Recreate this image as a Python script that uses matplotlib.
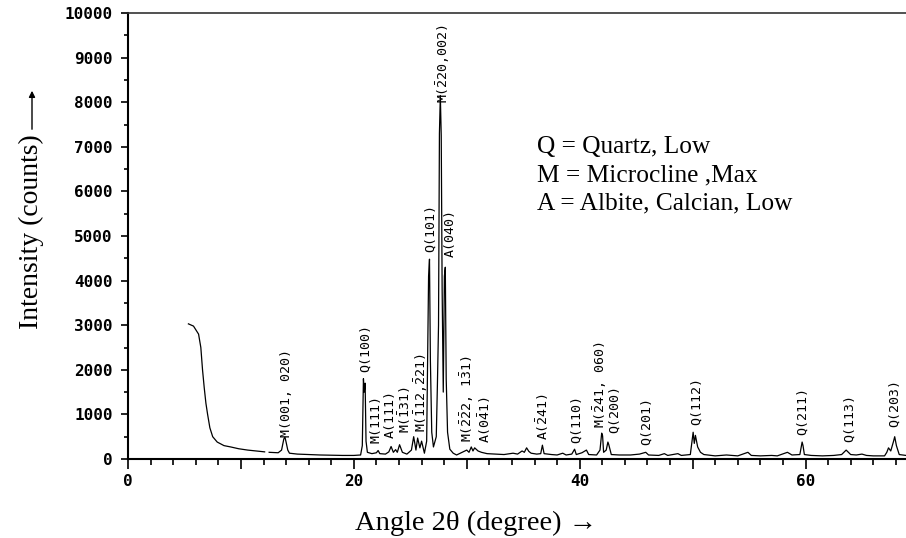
import numpy as np
import matplotlib
matplotlib.use("Agg")
import matplotlib.pyplot as plt
from matplotlib.ticker import MultipleLocator, FuncFormatter

plt.rcParams["mathtext.fontset"] = "custom"
plt.rcParams["mathtext.rm"] = "DejaVu Sans Mono"
plt.rcParams["mathtext.it"] = "DejaVu Sans Mono"
plt.rcParams["mathtext.bf"] = "DejaVu Sans Mono:bold"

# ---- data ----
angle_deg = [5.35, 5.8, 6.25, 6.45, 6.6, 6.75, 6.9, 7.05, 7.25, 7.5, 7.9, 8.5, 9.1, 9.8, 10.6, 11.4, 12.1,
             12.3, 12.5, 13.3, 13.6, 13.8, 13.9, 14.0, 14.15, 14.3, 15.0, 16.0, 17.0, 18.0, 19.0, 20.0,
             20.6, 20.75, 20.85, 20.92, 21.0, 21.08, 21.2, 21.6, 22.0, 22.15, 22.3, 22.8, 23.1, 23.3,
             23.5, 23.7, 23.85, 24.05, 24.3, 24.7, 25.1, 25.3, 25.5, 25.65, 25.85, 26.0, 26.25, 26.45,
             26.55, 26.62, 26.7, 26.78, 26.9, 27.05, 27.3, 27.4, 27.5, 27.58, 27.66, 27.74, 27.82, 27.92,
             28.02, 28.1, 28.18, 28.3, 28.5, 28.8, 29.1, 29.6, 30.0, 30.2, 30.4, 30.55, 30.7, 31.0, 31.3,
             31.8, 32.5, 33.3, 34.1, 34.5, 34.9, 35.1, 35.3, 35.5, 35.7, 36.2, 36.55, 36.7, 36.85, 37.5,
             38.0, 38.5, 38.8, 39.3, 39.55, 39.7, 40.2, 40.6, 40.8, 41.5, 41.8, 41.95, 42.03, 42.12, 42.35,
             42.5, 42.57, 42.8, 43.5, 44.5, 45.3, 45.85, 46.1, 47.0, 47.5, 47.8, 48.7, 49.0, 49.8, 50.05,
             50.15, 50.25, 50.45, 50.7, 51.0, 52.0, 53.0, 54.0, 54.9, 55.2, 56.0, 57.0, 57.5, 58.4, 58.8,
             59.5, 59.7, 59.78, 59.9, 60.5, 61.5, 62.5, 63.2, 63.6, 64.0, 64.5, 65.0, 65.4, 66.0, 67.0,
             67.2, 67.35, 67.55, 67.8, 67.9, 68.05, 68.3, 68.9]
intensity = [3030, 2980, 2800, 2500, 2000, 1600, 1250, 1000, 700, 500, 380, 300, 270, 230, 200, 180, 160,
             np.nan, 150, 140, 200, 450, 490, 380, 200, 130, 110, 100, 90, 85, 80, 80,
             90, 300, 1800, 1500, 1700, 400, 150, 120, 140, 190, 120, 110, 160, 280,
             150, 210, 150, 320, 150, 110, 200, 500, 200, 470, 250, 400, 130, 400,
             2500, 4100, 4480, 2200, 600, 270, 500, 1650, 3000, 7300, 8150, 7250, 3800, 1500,
             4100, 4300, 1800, 600, 220, 130, 90, 150, 200, 150, 270, 180, 250, 180, 150,
             120, 110, 100, 130, 110, 180, 150, 250, 170, 130, 110, 120, 310, 120, 100,
             90, 130, 90, 110, 220, 100, 140, 200, 100, 90, 200, 580, 520, 150, 200,
             380, 330, 100, 90, 90, 110, 150, 90, 80, 120, 80, 120, 80, 100, 600,
             350, 530, 270, 150, 100, 70, 90, 70, 150, 80, 70, 80, 70, 150, 90,
             100, 380, 300, 100, 80, 70, 80, 100, 200, 100, 90, 110, 80, 70, 70,
             150, 250, 180, 400, 500, 300, 100, 80]

peak_labels = ["M(001, 020)", "Q(100)", "M(111)", "A(111)", r"M($\bar{1}$31)",
               r"M($\bar{1}$12,$\bar{2}$21)", "Q(101)", r"M($\bar{2}$20,002)", "A(040)",
               r"M($\bar{2}\bar{2}$2, 1$\bar{3}$1)", r"A(0$\bar{4}$1)", r"A($\bar{2}$41)",
               "Q(110)", r"M($\bar{2}$41, 060)", "Q(200)", "Q(201)", "Q(112)", "Q(211)",
               "Q(113)", "Q(203)"]
label_angle = [14.0, 21.0, 22.0, 23.2, 24.5, 26.0, 26.8, 27.9, 28.5, 30.0, 31.6, 36.7,
               39.7, 41.8, 43.1, 45.9, 50.3, 59.7, 63.9, 67.9]
label_base = [490, 1950, 360, 470, 580, 600, 4640, 7980, 4530, 380, 360, 430,
              360, 690, 580, 310, 760, 540, 380, 720]

x_ticks = [0, 20, 40, 60]
y_ticks = [0, 1000, 2000, 3000, 4000, 5000, 6000, 7000, 8000, 9000, 10000]
legend_lines = ["Q = Quartz, Low", "M = Microcline ,Max", "A = Albite, Calcian, Low"]

# ---- figure ----
W, H = 906, 538
fig = plt.figure(figsize=(W / 100, H / 100), dpi=100)
ax = fig.add_axes([128 / W, 79 / H, 778 / W, 446 / H])

ax.plot(angle_deg, intensity, color="black", lw=0.9)

ax.set_xlim(0, 68.9)
ax.set_ylim(0, 10000)

ax.spines["right"].set_visible(False)
ax.spines["left"].set_linewidth(1.5)
ax.spines["bottom"].set_linewidth(1.5)
ax.spines["top"].set_linewidth(1.2)
ax.spines["top"].set_color("#333333")

ax.xaxis.set_major_locator(MultipleLocator(10))
ax.xaxis.set_minor_locator(MultipleLocator(2))
ax.xaxis.set_major_formatter(FuncFormatter(lambda v, p: f"{int(round(v))}" if int(round(v)) in x_ticks else ""))
ax.set_yticks(y_ticks)
ax.yaxis.set_minor_locator(MultipleLocator(500))
ax.tick_params(axis="x", which="major", length=7, width=1.2, direction="out", pad=4)
ax.tick_params(axis="x", which="minor", length=4, width=1.2, direction="out")
ax.tick_params(axis="y", which="major", length=5, width=1.2, direction="out", pad=6)
ax.tick_params(axis="y", which="minor", length=3, width=1.2, direction="out")
for lab in ax.get_xticklabels() + ax.get_yticklabels():
    lab.set_fontfamily("DejaVu Sans Mono")
    lab.set_fontweight("bold")
    lab.set_fontsize(11.5)

# peak labels
for lab, xa, yb in zip(peak_labels, label_angle, label_base):
    ax.text(xa, yb, lab, rotation=90, ha="center", va="bottom",
            fontfamily="DejaVu Sans Mono", fontsize=9.5, color="black")

serif = ["Liberation Serif", "DejaVu Serif"]
# legend text
for i, t in enumerate(legend_lines):
    fig.text(537 / W, 1 - (153 + 28 * i) / H, t, fontfamily=serif, fontsize=18.3,
             ha="left", va="baseline")

# axis labels
fig.text(476 / W, 1 - 523 / H, "Angle 2\u03b8 (degree) \u2192", fontfamily=serif, fontsize=20.5,
         ha="center", va="center")
fig.text(31 / W, 1 - 232 / H, "Intensity (counts)", fontfamily=serif, fontsize=20,
         ha="center", va="center", rotation=90)
ax.annotate("", xy=(32, H - 88), xytext=(32, H - 132), xycoords="figure pixels",
            textcoords="figure pixels",
            arrowprops=dict(arrowstyle="-|>", lw=1.0, color="black", mutation_scale=9))

fig.savefig("out.png", dpi=100)
